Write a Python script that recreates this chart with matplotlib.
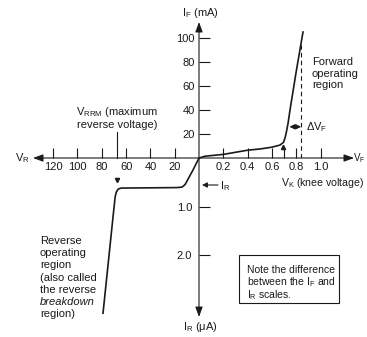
import matplotlib
matplotlib.use('Agg')
import matplotlib.pyplot as plt
from matplotlib.patches import Rectangle

plt.rcParams['font.family'] = ['Liberation Sans', 'DejaVu Sans']
plt.rcParams['mathtext.fontset'] = 'custom'
plt.rcParams['mathtext.rm'] = 'Liberation Sans'
plt.rcParams['mathtext.it'] = 'Liberation Sans:italic'

# forward characteristic (V, mA)
v_fwd = [0, 0.05, 0.2, 0.4, 0.5, 0.6, 0.667, 0.695, 0.708, 0.72, 0.733, 0.749, 0.8, 0.856]
i_fwd = [0, 1.5, 3, 6.5, 7.5, 9, 10.8, 13, 16.7, 22, 29, 40, 72, 105]
# reverse characteristic (V, uA)
v_rev = [0, 5, 11.5, 14, 18, 40, 64, 66.5, 68, 69, 70.7, 79]
i_rev = [0, 0.25, 0.55, 0.6, 0.61, 0.615, 0.62, 0.64, 0.7, 0.8, 1.2, 3.2]

fwd_xticks = [0.2, 0.4, 0.6, 0.8, 1.0]
fwd_xlabels = ['0.2', '0.4', '0.6', '0.8', '1.0']
fwd_yticks = [20, 40, 60, 80, 100]
rev_xticks = [20, 40, 60, 80, 100, 120]
rev_yticks = [1.0, 2.0]
rev_ylabels = ['1.0', '2.0']

v_knee = 0.7
v_drop = 0.84
i_drop_top = 94
i_dvf = 26
v_dvf_curve = 0.745

ink = '#1a1a1a'
W, H = 367, 337
OX, OY = 199, 158          # origin in pixels
px_per_v_f, px_per_ma = 121.5, 1.2
px_per_v_r, px_per_ua = 1.215, 48.5

fig = plt.figure(figsize=(W / 100, H / 100), dpi=100)

# forward quadrant
ax_f = fig.add_axes([OX / W, 1 - OY / H, (W - OX) / W, OY / H])
ax_f.set_xlim(0, (W - OX) / px_per_v_f)
ax_f.set_ylim(0, OY / px_per_ma)
# reverse quadrant
ax_r = fig.add_axes([0, 0, OX / W, (H - OY) / H])
ax_r.set_xlim(OX / px_per_v_r, 0)
ax_r.set_ylim((H - OY) / px_per_ua, 0)

for ax in (ax_f, ax_r):
    ax.set_facecolor('none')
    for s in ax.spines.values():
        s.set_visible(False)

ax_f.set_xticks(fwd_xticks, fwd_xlabels)
ax_f.set_xticks([v_knee], minor=True)
ax_f.set_yticks(fwd_yticks, [str(t) for t in fwd_yticks])
ax_f.tick_params(axis='x', which='both', direction='in', length=7, width=0.8,
                 color=ink, labelcolor=ink, labelsize=8, pad=3)
ax_f.tick_params(axis='y', direction='in', length=8, width=0.8,
                 color=ink, labelcolor=ink, labelsize=8, pad=3)

ax_r.spines['bottom'].set_position(('axes', 1.0))
ax_r.spines['left'].set_position(('axes', 1.0))
ax_r.set_xticks(rev_xticks, [str(t) for t in rev_xticks])
ax_r.set_yticks(rev_yticks, rev_ylabels)
ax_r.tick_params(axis='x', direction='in', length=7, width=0.8,
                 color=ink, labelcolor=ink, labelsize=8, pad=3)
ax_r.tick_params(axis='y', direction='in', length=8, width=0.8,
                 color=ink, labelcolor=ink, labelsize=8, pad=5)

# curves
ax_f.plot(v_fwd, i_fwd, color=ink, lw=1.2, clip_on=False, solid_joinstyle='round')
ax_r.plot(v_rev, i_rev, color=ink, lw=1.2, clip_on=False, solid_joinstyle='round')
ax_f.plot([v_drop, v_drop], [0, i_drop_top], color=ink, lw=0.8, ls=(0, (4, 3)))
ax_f.plot([0.69], [9], marker='^', ms=3, color=ink, clip_on=False)
ax_f.annotate('', xy=(v_dvf_curve, i_dvf), xytext=(v_drop, i_dvf),
              arrowprops=dict(arrowstyle='<|-|>,head_length=0.5,head_width=0.25',
                              mutation_scale=6, lw=0.8, color=ink,
                              shrinkA=0, shrinkB=0))

# overlay in pixel units for axes arrows and notes
ov = fig.add_axes([0, 0, 1, 1])
ov.set_xlim(0, W)
ov.set_ylim(H, 0)
ov.axis('off')

arrow = dict(arrowstyle='<|-|>,head_length=0.6,head_width=0.22', mutation_scale=10,
             lw=0.8, color=ink, shrinkA=0, shrinkB=0)
ov.annotate('', xy=(33, OY), xytext=(354, OY), arrowprops=arrow)
ov.annotate('', xy=(OX, 22), xytext=(OX, 317), arrowprops=arrow)

fs = 8
ov.text(15, OY, 'V$_\\mathrm{R}$', fontsize=fs, color=ink, va='center')
ov.text(365, OY, 'V$_\\mathrm{F}$', fontsize=7, color=ink, ha='right', va='center')
ov.text(200, 13, 'I$_\\mathrm{F}$ (mA)', fontsize=fs, color=ink, ha='center', va='center')
ov.text(200, 327, 'I$_\\mathrm{R}$ (μA)', fontsize=fs, color=ink, ha='center', va='center')

ov.text(117, 112, 'V$_\\mathrm{RRM}$ (maximum', fontsize=fs, color=ink, ha='center', va='center')
ov.text(117, 125, 'reverse voltage)', fontsize=fs, color=ink, ha='center', va='center')
ov.plot([117, 117], [132, OY], color=ink, lw=0.8)
ov.plot([117], [180], marker='v', ms=3, color=ink)

ov.annotate('', xy=(202, 185), xytext=(218, 185),
            arrowprops=dict(arrowstyle='-|>,head_length=0.5,head_width=0.25',
                            mutation_scale=6, lw=0.8, color=ink, shrinkA=0, shrinkB=0))
ov.text(220, 186, 'I$_\\mathrm{R}$', fontsize=fs, color=ink, va='center')
ov.text(364, 183, 'V$_\\mathrm{K}$ (knee voltage)', fontsize=7.6, color=ink,
        ha='right', va='center')
ov.text(306, 127, 'ΔV$_\\mathrm{F}$', fontsize=fs, color=ink, va='center')

for k, line in enumerate(['Forward', 'operating', 'region']):
    ov.text(312, 62 + k * 11.7, line, fontsize=fs, color=ink, va='center')

rev_lines = ['Reverse', 'operating', 'region', '(also called', 'the reverse',
             'breakdown', 'region)']
for k, line in enumerate(rev_lines):
    ov.text(40, 241 + k * 12.2, line, fontsize=fs, color=ink, va='center',
            style='italic' if line == 'breakdown' else 'normal')

ov.add_patch(Rectangle((239, 255), 100, 48, fill=False, lw=0.8, ec=ink))
for k, line in enumerate(['Note the difference', 'between the I$_\\mathrm{F}$ and',
                          'I$_\\mathrm{R}$ scales.']):
    ov.text(247, 270 + k * 12.5, line, fontsize=7.5, color=ink, va='center')

fig.savefig('out.png', dpi=100, facecolor='white')
